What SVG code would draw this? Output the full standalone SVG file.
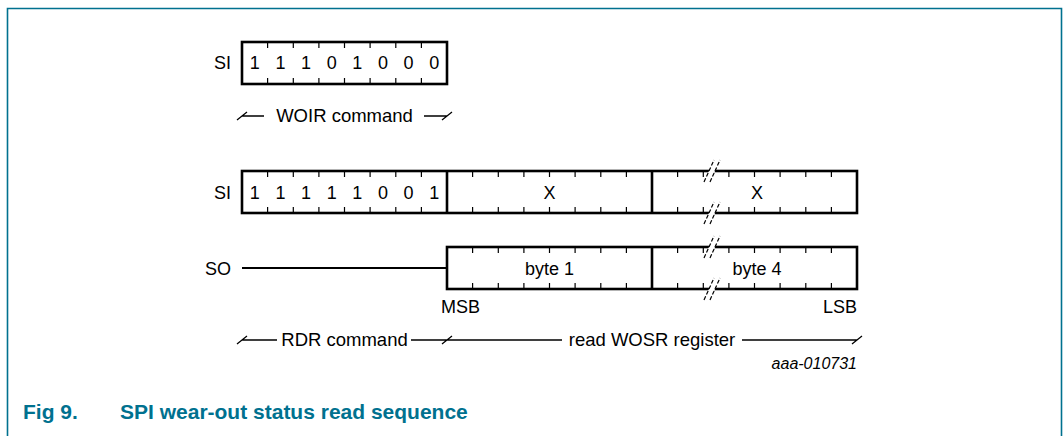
<svg xmlns="http://www.w3.org/2000/svg" width="1063" height="436" viewBox="0 0 1063 436">
<style>
text{font-family:"Liberation Sans",Arial,sans-serif;fill:#000;font-size:18px}
.mid{text-anchor:middle}
.end{text-anchor:end}
.lbl{font-size:18.5px}
.box{fill:#fff;stroke:#000;stroke-width:2.6}
.div{stroke:#000;stroke-width:2.6;fill:none}
.tick{stroke:#000;stroke-width:1.2;fill:none}
.thin{stroke:#000;stroke-width:1.3;fill:none}
.brk{stroke:#000;stroke-width:1.2;fill:none;stroke-dasharray:4 2}
.frame{stroke:#00718F;stroke-width:1.6;fill:none}
.title{font-weight:bold;fill:#00718F;font-size:21px}
</style>
<defs>
<g id="break">
<polygon points="-9,11 1,-11 7,-11 -3,11" fill="#fff"/>
<line class="brk" x1="-9" y1="11" x2="1" y2="-11"/>
<line class="brk" x1="-3" y1="11" x2="7" y2="-11"/>
</g>
</defs>
<rect width="1063" height="436" fill="#fff"/>
<path class="frame" d="M7.5,436V8.5H1061.5V436"/>

<g id="woir-si">
<text class="end" x="231" y="69">SI</text>
<rect class="box" x="242" y="42" width="205" height="42"/>
<path class="tick" d="M267.6,42v6M293.3,42v6M318.9,42v6M344.5,42v6M370.1,42v6M395.8,42v6M421.4,42v6M267.6,84v-6M293.3,84v-6M318.9,84v-6M344.5,84v-6M370.1,84v-6M395.8,84v-6M421.4,84v-6"/>
<text class="mid" x="254.8" y="69">1</text>
<text class="mid" x="280.4" y="69">1</text>
<text class="mid" x="306.1" y="69">1</text>
<text class="mid" x="331.7" y="69">0</text>
<text class="mid" x="357.3" y="69">1</text>
<text class="mid" x="382.9" y="69">0</text>
<text class="mid" x="408.6" y="69">0</text>
<text class="mid" x="434.2" y="69">0</text>
</g>

<g id="woir-label">
<path class="thin" d="M237,120L247,112M242,116H264M424,116H447M442,120L452,112"/>
<text class="mid lbl" x="344.5" y="122">WOIR command</text>
</g>

<g id="rdr-si">
<text class="end" x="231" y="199">SI</text>
<rect class="box" x="242" y="171" width="615" height="42"/>
<path class="div" d="M447,171V213M652,171V213"/>
<path class="tick" d="M267.6,171v6M293.3,171v6M318.9,171v6M344.5,171v6M370.1,171v6M395.8,171v6M421.4,171v6M472.6,171v6M498.3,171v6M523.9,171v6M549.5,171v6M575.1,171v6M600.8,171v6M626.4,171v6M677.6,171v6M703.3,171v6M728.9,171v6M754.5,171v6M780.1,171v6M805.8,171v6M831.4,171v6M267.6,213v-6M293.3,213v-6M318.9,213v-6M344.5,213v-6M370.1,213v-6M395.8,213v-6M421.4,213v-6M472.6,213v-6M498.3,213v-6M523.9,213v-6M549.5,213v-6M575.1,213v-6M600.8,213v-6M626.4,213v-6M677.6,213v-6M703.3,213v-6M728.9,213v-6M754.5,213v-6M780.1,213v-6M805.8,213v-6M831.4,213v-6"/>
<text class="mid" x="254.8" y="199">1</text>
<text class="mid" x="280.4" y="199">1</text>
<text class="mid" x="306.1" y="199">1</text>
<text class="mid" x="331.7" y="199">1</text>
<text class="mid" x="357.3" y="199">1</text>
<text class="mid" x="382.9" y="199">0</text>
<text class="mid" x="408.6" y="199">0</text>
<text class="mid" x="434.2" y="199">1</text>
<text class="mid" x="549.5" y="199">X</text>
<text class="mid" x="757" y="199">X</text>
</g>

<g id="rdr-so">
<text class="end" x="231" y="275">SO</text>
<rect class="box" x="447" y="247" width="410" height="42"/>
<path class="div" d="M652,247V289"/>
<path class="div" d="M242,268H447" style="stroke-width:2.2"/>
<path class="tick" d="M472.6,247v6M498.3,247v6M523.9,247v6M549.5,247v6M575.1,247v6M600.8,247v6M626.4,247v6M677.6,247v6M703.3,247v6M728.9,247v6M754.5,247v6M780.1,247v6M805.8,247v6M831.4,247v6M472.6,289v-6M498.3,289v-6M523.9,289v-6M549.5,289v-6M575.1,289v-6M600.8,289v-6M626.4,289v-6M677.6,289v-6M703.3,289v-6M728.9,289v-6M754.5,289v-6M780.1,289v-6M805.8,289v-6M831.4,289v-6"/>
<text class="mid" x="549.5" y="275">byte 1</text>
<text class="mid" x="757" y="275">byte 4</text>
</g>

<g id="breaks">
<use href="#break" x="713" y="171"/>
<use href="#break" x="713" y="213"/>
<use href="#break" x="713" y="247"/>
<use href="#break" x="713" y="289"/>
</g>

<g id="msb-lsb">
<text x="441" y="313">MSB</text>
<text class="end" x="857" y="313">LSB</text>
</g>

<g id="rdr-label">
<path class="thin" d="M237,344L247,336M242,340H277M411,340H447M442,344L452,336M447,340H562M742,340H857M852,344L862,336"/>
<text class="mid lbl" x="344.5" y="346">RDR command</text>
<text class="mid lbl" x="652" y="346">read WOSR register</text>
</g>

<text class="end" x="857" y="369" style="font-style:italic;font-size:16px">aaa-010731</text>

<g id="caption">
<text class="title" x="23" y="419">Fig 9.</text>
<text class="title" x="120" y="419">SPI wear-out status read sequence</text>
</g>
</svg>
